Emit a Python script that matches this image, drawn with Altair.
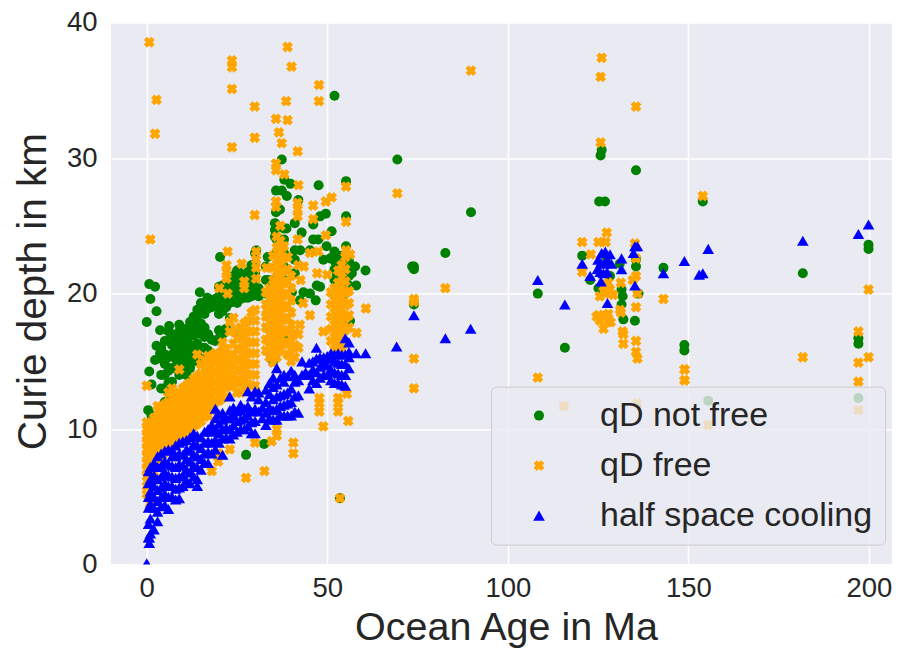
import altair as alt
import pandas as pd

SERIES = ["qD not free", "qD free", "half space cooling"]
COLORS = ["green", "orange", "blue"]
X_SHAPE = "M-0.4,-1L0,-0.6L0.4,-1L1,-0.4L0.6,0L1,0.4L0.4,1L0,0.6L-0.4,1L-1,0.4L-0.6,0L-1,-0.4Z"
SHAPES = ["circle", X_SHAPE, "triangle-up"]
SIZES = [100, 135, 165]
X_TICKS = [0, 50, 100, 150, 200]
Y_TICKS = [0, 10, 20, 30, 40]

green_sparse = [
    (37.4,29.9),(52,34.6),(69.4,29.9),(47.6,28),(55.2,28.3),(35.8,27.6),(37.4,27.6),(38.8,27.2),(38.1,28.4),(39.8,28.1),
    (42,26.9),(35.8,26),(36.9,26.2),(55.2,25.7),(49.6,25.9),(48,25.7),(46.1,25.1),(51.2,24.6),(35.5,25.2),(35.5,24.7),
    (35.5,24.2),(38.7,24.8),(42.9,24.5),(46.1,24),(47.5,24),(49.8,23.5),(52,23.1),(52.6,22.6),(55.2,23.5),(20.3,22.7),
    (33.5,22.7),(30.3,23.2),(60.6,21.7),(57.7,22),(56.8,21.5),(48.9,22.5),(50.8,22.6),(45.2,23.2),(42.5,23.2),
    (0.7,20.7),(2.3,20.5),(14.7,20.1),(16.8,19.7),(1,19.6),(25.5,21.6),(43.4,20.1),(45.2,20),(47.1,20.6),(48,20.5),
    (58,20.6),(42.4,19.5),(46.8,19.5),(73.5,22),(34.1,21),(40.2,20.1),(52.6,21.3),(55.8,22.1),(2.7,18.7),(0,17.9),
    (3.7,17.3),(6.2,17.6),(9,17.7),(6,16.5),(2.7,16.15),(3.7,15.6),(2.3,15.1),(0.7,14.25),(1.3,13.3),(0.4,11.4),(1.3,11),
    (32.5,8.9),(27.5,8.1),(56.3,18),(38.7,17),(35,15),(53.5,4.9),
    (89.8,26),(82.7,23),(74,22),(74,21.8),(74,19.2),(108.3,20),(115.8,16),(125.7,30.2),(126,30.6),(135.5,29.1),
    (125.3,26.8),(126.9,26.8),(120.6,22.8),(122.8,21),(135.5,22),(135.5,22.5),(143.1,21.9),(148.9,16.2),(148.9,15.8),
    (131.5,20.3),(131.8,19.8),(131.5,19.2),(132,18.1),(135.2,18),(136.2,20),(128.3,21.3),(125.1,20.4),(127.4,22.7),(131,22.2),
    (154,26.8),(181.7,21.5),(199.9,23.6),(199.9,23.3),(197.1,16.7),(197.1,16.3),(197.1,12.3),(155.5,12.1),
]
green_columns = {
    4: [13, 14, 15.2, 16], 5: [12, 13, 14, 14.8, 15.5, 16.5], 6: [12, 12.7, 13.4, 14.3, 15.3, 17.2],
    7: [13.5, 14.5, 15.5, 16.2, 17], 8: [14.5, 15.2, 16, 16.8], 9: [14, 14.8, 15.6, 16.4, 17.2],
    10: [14.5, 15.3, 16, 16.8], 11: [14, 15, 15.8, 16.6, 17.4], 12: [14.5, 15.4, 16.2, 17, 17.9],
    13: [15, 16, 16.9, 17.6, 18.3], 14: [15.5, 16.3, 17.2, 18, 18.8], 15: [15.2, 16, 17, 17.8, 18.6, 19.3],
    16: [16, 16.8, 17.5, 18.5, 19.2], 17: [15.8, 17, 18.9, 19.6], 18: [16.6, 19, 19.5], 19: [16.5, 19.1, 19.6],
    20: [16.7, 17.3, 18.5, 19.2, 19.8, 20.5], 21: [17, 18.7, 19.4, 20, 20.6], 22: [17.4, 19, 19.6, 20.2, 20.8],
    23: [18.2, 19.3, 19.9, 20.5, 21], 24: [17.2, 19.5, 20.1, 20.7, 21.3], 25: [19.3, 19.8, 20.3, 21, 21.7],
    26: [19.6, 20.1, 20.6, 21.2], 27: [19.7, 20.2, 20.7, 21.3], 28: [19.7, 20.3, 21, 21.6],
    29: [19.8, 20.4, 20.9, 21.5, 22.1], 30: [19.9, 20.5, 21, 21.5, 22.2, 23], 31: [19.8, 20.4],
    33: [20, 21, 22], 36: [20, 21, 22, 23, 24, 25], 38: [21, 22, 23, 24, 24.8], 41: [21.5, 22.5, 23.2, 25.2],
    52: [20, 21, 21.8, 22.4], 54: [19.8, 21.2, 22, 22.8], 56: [20.6, 21.3, 22.4],
}
orange_sparse = [
    (0.7,38.55),(2.7,34.3),(2.3,31.8),(23.6,37.2),(23.6,36.7),(23.6,35.1),(23.6,30.8),(29.9,33.8),(29.9,31.5),(39,38.2),
    (40.1,36.75),(38.6,34.2),(39,32.8),(35.8,32.9),(36.6,31.9),(37.4,31.1),(41.8,30.5),(47.7,35.4),(47.7,34.2),(35.8,29.6),
    (35.8,29.1),(38.1,28.8),(42,28),(55.2,27.9),(69.4,27.4),(51.2,27.1),(49.6,26.8),(46.1,26.5),(35.8,26.8),(35.8,26.4),
    (41.8,26.7),(41.8,25.7),(41.8,26.2),(29.9,25.8),(46.1,25.5),(55.2,25.3),(1,24),(37,25),(49.6,24.3),(41.8,24),
    (22.4,23.1),(47.5,23.1),(45.2,23),(55.2,23.2),(56.3,22.9),(30.3,23.1),(30.3,22.5),(30.3,21.9),(30.3,21.1),(26.3,22.2),
    (22.1,22.1),(22.1,21.6),(22.1,21.1),(33.2,21.9),(42,22.1),(43.5,22),(47.2,21.5),(50,21.4),(42.6,21),(20.1,20.4),
    (22.4,20),(27,20.9),(27,20.4),(0,13.2),(27.5,6.4),(32.6,6.9),(40.6,9),(40.6,8.2),(48.9,10.2),(55.8,10.6),(36,10),(36,9.5),
    (30,9),(34.6,9.1),(18,6.9),(19.8,8.2),(19.8,7.6),(23,8.5),(47.8,12.3),(47.8,11.9),(47.8,11.3),(53,12.3),(53,11.9),(53,11.3),
    (55.4,12.6),(60.7,18.9),(58.1,17.1),(48.9,17.2),(45.2,18.4),(42.4,17.7),(33.2,18.8),(43.3,19.3),(0.9,4.5),(53.5,4.9),
    (89.8,36.45),(126,37.4),(125.7,36),(135.5,33.8),(125.7,31.15),(74,19.4),(74,19.6),(82.7,20.4),(74,15.2),(74,13),(108.3,13.8),
    (120.6,23.8),(123,22.9),(127.4,24.5),(125.1,23.8),(127.1,23.8),(135.2,23.7),(135.5,22.6),(135.5,21.3),(134.6,21),(131.3,20.8),
    (131.3,18.6),(131.1,18.8),(131.8,17.2),(132,17),(132,16.3),(135.5,16.5),(135.5,15.7),(135.9,15.2),(135.5,19),(135.9,20),
    (143.1,19.6),(148.9,14.4),(148.9,13.6),(120.6,21.6),(125.5,19.8),(126.9,20),(128.3,20.3),(127.8,20.8),(126.5,20.5),
    (129.2,19.9),(125.1,18.4),(126.5,18.4),(127.8,18.5),(125.5,18),(127.8,17.9),(126.5,17.4),(128.5,17.9),(124.6,18.3),
    (154,27.2),(149,14.4),(149,13.6),(181.7,15.3),(199.9,20.3),(197.1,17.2),(199.9,15.3),(197.1,14.9),(197.1,13.5),
    (197.1,11.4),(155.5,10.3),(115.5,11.7),(135.8,11.9),
]
orange_columns = {
    0: [5.2, 5.8, 6.5, 7, 7.5, 8, 8.5, 9, 9.5, 10, 10.5],
    1: [6, 7, 7.5, 8, 8.6, 9.2, 9.8, 10.4],
    2: [6.8, 7.5, 8.2, 8.9, 9.5, 10.1, 10.8],
    3: [7.5, 8.2, 8.9, 9.6, 10.3, 11, 11.7],
    4: [8, 8.7, 9.4, 10.1, 10.8, 11.5],
    5: [8.3, 9, 9.7, 10.4, 11.1, 11.8],
    6: [8.5, 9.2, 9.9, 10.6, 11.3, 12, 12.7],
    7: [8.8, 9.5, 10.2, 10.9, 11.6, 12.3, 13],
    8: [9, 9.7, 10.4, 11.1, 11.8, 12.5],
    9: [9.2, 9.9, 10.6, 11.3, 12, 12.7, 14.4],
    10: [9.5, 10.2, 10.9, 11.6, 12.3, 13],
    11: [9.7, 10.4, 11.1, 11.8, 12.5, 13.2],
    12: [9.9, 10.6, 11.3, 12, 12.7, 13.4],
    13: [10.2, 10.9, 11.6, 12.3, 13, 13.7],
    14: [10.4, 11.1, 11.8, 12.5, 13.2, 13.9, 15.5],
    15: [10.6, 11.3, 12, 12.7, 13.4, 14.1, 14.8],
    16: [10.9, 11.6, 12.3, 13, 13.7, 14.4, 15.1],
    17: [11, 11.8, 12.5, 13.2, 13.9, 14.6, 15.4],
    18: [11.4, 12.1, 12.8, 13.5, 14.2, 14.9, 15.4],
    19: [12, 12.7, 13.4, 14.1, 14.8, 15.6],
    20: [12.1, 12.8, 13.5, 14.2, 14.9, 15.5],
    21: [12.3, 13, 13.7, 14.4, 15.1, 15.8, 16.4],
    22: [12.4, 13.1, 13.8, 14.5, 15.2, 15.9],
    23: [13.2, 14, 14.7, 15.4, 17.2, 17.9],
    24: [13.3, 14, 14.8, 15.5, 16.3, 18.2],
    25: [12.7, 13.5, 14.3, 15.1, 15.9, 16.7, 17.3],
    26: [12.7, 13.5, 14.3, 15.1, 15.9, 16.7, 17.5],
    27: [13, 13.7, 14.5, 15.3, 16.1, 16.9, 17.8],
    28: [13.3, 14, 14.8, 15.6, 16.4, 17.2, 18],
    29: [13.2, 14, 14.8, 15.6, 16.4, 17.2, 18, 18.6],
    30: [13.2, 14, 14.8, 15.6, 16.4, 17.2, 18, 18.8],
    33: [15.8, 16.6, 17.5, 18.3, 19.2, 20.1],
    34: [15.3, 16.1, 17, 17.9, 18.7, 19.6, 20.4],
    35: [14.9, 15.7, 16.6, 17.4, 18.3, 19.2, 20.1, 21, 21.9, 22.8],
    36: [15.3, 16.2, 17.1, 18, 18.9, 19.8, 20.7, 21.6, 22.5, 23.4, 24.2],
    37: [15.8, 16.7, 17.6, 18.5, 19.4, 20.3, 21.2, 22.1, 23, 23.9],
    38: [16.3, 17.2, 18.1, 19, 19.9, 20.8, 21.7, 22.6, 23.5],
    39: [15.5, 16.4, 17.3, 18.2, 19.1, 20, 20.9, 21.8, 22.7],
    40: [15, 15.9, 16.8, 17.7, 18.6, 19.5, 20.4, 21.3],
    41: [15.3, 16.2, 17.1],
    42: [16, 17],
    51: [16.5, 17.4, 18.3, 19.2, 20.1],
    52: [15.9, 16.8, 17.7, 18.6, 19.5, 20.4],
    53: [16.3, 17.2, 18.1, 19, 19.9, 20.8, 21.7],
    54: [15.8, 16.7, 17.6, 18.5, 19.4, 20.3, 21.2, 22.1],
    55: [16.4, 17.3, 18.2, 19.1, 20, 20.9, 21.8, 22.7],
    56: [17.5, 18.4, 19.3, 20.2],
}
blue_sparse = [
    (0,0.1),(0.7,1.6),(0.7,2),(58,15.6),(60.6,15.6),(69.2,16.1),(74,18.4),(82.7,16.7),(89.7,17.4),(108.3,21),(115.8,19.2),
    (120.6,22.2),(122.8,21.3),(125.8,20.9),(127.6,19.3),(131.5,22.6),(131.5,21.8),(135.2,23.5),(135.9,23.5),(134.8,23),
    (135.2,20.6),(143.1,21.5),(148.9,22.4),(153,21.4),(154,21.5),(155.5,23.3),(181.7,23.9),(197.1,24.4),(199.9,25.1),
    (124.8,21.8),(125,22.5),(125.6,21.6),(125.8,22.3),(126,23),(126.5,21.5),(126.7,22.2),(127,23.1),(127.5,21.6),(127.6,22.4),(128.3,22.9),(128.7,22.2),
]
blue_columns = {
    0.5: [2, 3, 4.2, 5, 6, 6.9], 1: [2.3, 3.4, 4.5, 5.4, 6.3, 7.2], 2: [2.6, 4.2, 5, 5.8, 6.6, 7.5],
    3: [3.2, 3.9, 4.7, 5.5, 6.3, 7.2, 8], 4: [4.3, 5, 5.7, 6.5, 7.3, 8.2], 5: [4.4, 5.2, 6, 6.8, 7.6, 8.4],
    6: [4.1, 5, 5.8, 6.6, 7.4, 8.5], 7: [5, 5.8, 6.5, 7.3, 8, 8.5], 8: [4.8, 5.6, 6.4, 7.2, 8, 8.8],
    9: [4.9, 5.7, 6.5, 7.4, 8.2, 9], 10: [5.8, 6.6, 7.3, 8.1, 9.1], 11: [6.2, 7, 7.8, 8.5, 9.2],
    12: [6, 6.8, 7.6, 8.4, 9.4], 13: [6.5, 7.3, 8.1, 8.9, 9.7], 14: [5.8, 6.3, 7.2, 8, 8.8, 9.5],
    15: [7, 7.8, 8.6, 9.4], 16: [7.5, 8.2, 9, 9.8], 17: [7.5, 8.3, 9.1, 10], 18: [8.2, 9, 9.8, 10.3],
    19: [8.5, 9.2, 10, 10.8, 11.5], 20: [9, 9.7, 10.4, 11.1], 21: [8.1, 9.3, 10, 10.7, 11.2], 22: [9.4, 10.1, 10.8],
    23: [9.3, 10, 10.8, 11.4, 12.4], 24: [9.6, 10.3, 11, 11.6], 25: [9.8, 10.6, 11.3], 26: [10, 10.7, 11.4, 11.8],
    27: [10, 10.8, 11.5], 28: [10.2, 11, 11.7, 12.8], 29: [9.7, 10.5, 11.3, 12.4], 30: [9.7, 10.6, 11.5, 12.8],
    31: [11.3, 12.2, 12.7], 32: [10.8, 11.6], 33: [10.3, 11.2, 12, 12.9], 34: [10.8, 11.6, 12.6, 13.4],
    35: [10.7, 11.4, 12.2, 13.1, 13.8], 36: [10.7, 11.5, 12.4, 13.3, 14.5], 37: [11, 11.7, 12.5, 13.8],
    38: [11, 11.8, 12.6, 13.5, 14], 39: [11, 11.9, 12.7, 13.9], 40: [11, 12, 13, 14.3], 41: [11.3, 12.4, 13.5, 14],
    42: [11.2, 12.5, 13.6], 43: [14, 15], 44: [14.2], 45: [13, 14, 14.9], 46: [13.6, 14.4, 15],
    47: [13.4, 14.2, 15.2, 16], 48: [13.8, 14.6, 15.3], 49: [14, 14.9, 15.3], 50: [14, 14.7, 15.4],
    51: [13.6, 14.4, 15.2, 15.6], 52: [13.4, 14.2, 15, 15.5], 53: [13.4, 14.1, 14.9, 15.6],
    54: [13.3, 14, 14.8, 15.5], 55: [13.2, 14, 14.8, 15.5, 16.7], 56: [14.5, 15.3, 15.7, 16.4],
}


def rows(name, sparse, columns):
    out = [{"age": a, "depth": d, "model": name} for a, d in sparse]
    for a, depths in columns.items():
        out += [{"age": a, "depth": d, "model": name} for d in depths]
    return out


table = pd.DataFrame(
    rows(SERIES[0], green_sparse, green_columns)
    + rows(SERIES[1], orange_sparse, orange_columns)
    + rows(SERIES[2], blue_sparse, blue_columns)
)

INK = "#262626"
chart = (
    alt.Chart(table)
    .mark_point(filled=True, opacity=1, clip=True)
    .encode(
        x=alt.X("age:Q", scale=alt.Scale(domain=[-9.9, 206.4], nice=False, zero=False),
                axis=alt.Axis(values=X_TICKS, title="Ocean Age in Ma", labelPadding=10, titlePadding=6,
                              titleFontSize=39.5, titleX=395)),
        y=alt.Y("depth:Q", scale=alt.Scale(domain=[0, 40], nice=False, zero=False),
                axis=alt.Axis(values=Y_TICKS, title="Curie depth in km", labelPadding=14, titlePadding=12,
                              titleFontSize=40.5, titleY=268.5)),
        color=alt.Color("model:N", sort=SERIES, scale=alt.Scale(domain=SERIES, range=COLORS),
                        legend=alt.Legend(title=None, orient="none", legendX=380, legendY=364,
                                          fillColor="rgba(234,234,242,0.8)", strokeColor="#cccccc",
                                          cornerRadius=5, padding=12, labelFontSize=34, labelColor=INK, labelLimit=400,
                                          labelFont="Liberation Sans", symbolSize=95, symbolOffset=19,
                                          labelOffset=44, rowPadding=16, symbolStrokeWidth=0)),
        shape=alt.Shape("model:N", sort=SERIES, scale=alt.Scale(domain=SERIES, range=SHAPES)),
        size=alt.Size("model:N", sort=SERIES, scale=alt.Scale(domain=SERIES, range=SIZES), legend=None),
    )
    .properties(
        width=781, height=542,
        padding={"left": 103, "top": 14.6, "right": 0, "bottom": 85},
        autosize=alt.AutoSizeParams(type="none", contains="content"),
    )
    .configure_view(fill="#eaeaf2", stroke=None)
    .configure_axis(
        grid=True, gridColor="white", gridWidth=1.5, gridOpacity=1, domain=False, ticks=False,
        labelFont="Liberation Sans", titleFont="Liberation Sans", labelFontSize=27.5,
        labelColor=INK, titleColor=INK, titleFontWeight="normal",
    )
)

chart.save("out.html", embed_options={"renderer": "svg", "actions": False})
